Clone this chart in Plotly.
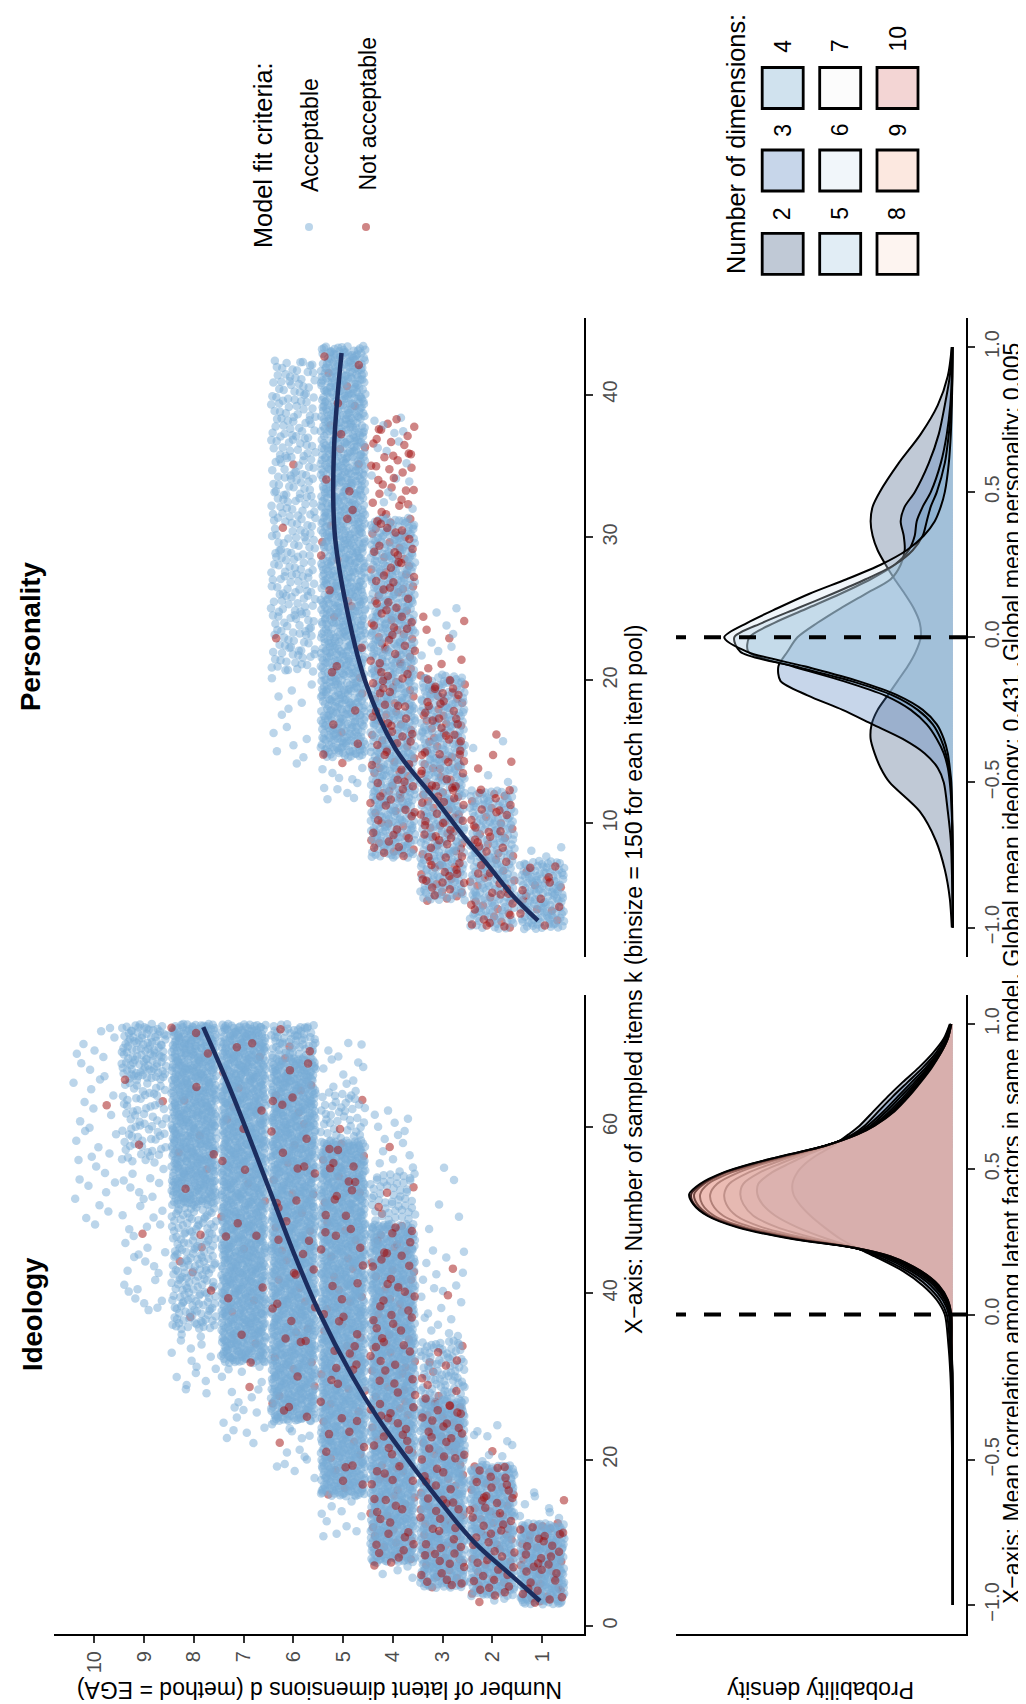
import plotly.graph_objects as go

W, H = 1026, 1704
FONT = "Liberation Sans, Arial, Helvetica, sans-serif"

# ------------------------------------------------------------------ data
dims = [1, 2, 3, 4, 5, 6, 7, 8, 9, 10]

# Scatter: bands of points
# (dimension d, first k, last k, points per k, share "Not acceptable")
ideo_band_dim = [1, 1, 2, 2, 2, 3, 3, 3, 3, 4, 4, 4, 4, 5, 5, 5, 5, 6, 6, 6, 7, 7, 8, 8, 8, 9, 9, 9, 10]
ideo_band_k0 = [3, 13, 3, 4, 20, 5, 28, 35, 46, 6, 8, 49, 55, 11, 16, 59, 65, 18, 25, 69, 22, 32, 28, 36, 51, 38, 56, 66, 48]
ideo_band_k1 = [12, 16, 3, 19, 24, 27, 34, 45, 57, 7, 48, 54, 62, 15, 58, 64, 70, 24, 68, 72, 31, 72, 35, 50, 72, 55, 65, 72, 72]
ideo_band_rate = [30, 2, 3, 27, 2, 30, 12, 2, 0.4, 2.5, 30, 9, 2, 2, 30, 7, 2, 2, 30, 15, 2, 30, 2, 12, 30, 2, 7, 15, 1.5]
ideo_band_red = [0.16, 0.10, 0.10, 0.17, 0.15, 0.14, 0.12, 0.10, 0.0, 0.10, 0.11, 0.08, 0.05, 0.10, 0.06, 0.05, 0.05,
                 0.05, 0.045, 0.03, 0.05, 0.02, 0.05, 0.03, 0.015, 0.05, 0.03, 0.015, 0.02]

pers_band_dim = [1, 1, 2, 2, 3, 3, 4, 4, 5, 5, 6, 6]
pers_band_k0 = [3, 8, 3, 13, 5, 21, 8, 32, 12, 15, 14, 21]
pers_band_k1 = [7, 8, 12, 16, 20, 25, 31, 38, 14, 43, 20, 42]
pers_band_rate = [30, 3, 27, 2, 30, 3, 33, 7, 4, 38, 2, 13]
pers_band_red = [0.12, 0.2, 0.25, 0.3, 0.28, 0.5, 0.2, 0.65, 0.05, 0.03, 0.02, 0.01]

# Smooth fits (k -> d)
ideo_smooth_k = [3, 6, 10, 14, 20, 25, 30, 38, 45, 52, 59, 65, 72]
ideo_smooth_d = [1.04, 1.6, 2.35, 2.92, 3.7, 4.3, 4.81, 5.5, 6.0, 6.45, 6.9, 7.3, 7.81]
pers_smooth_k = [3.2, 5, 7.1, 9, 11.5, 15.3, 20, 25.8, 30.4, 36.3, 42.9]
pers_smooth_d = [1.08, 1.6, 2.09, 2.55, 3.1, 3.96, 4.56, 4.97, 5.17, 5.18, 5.03]

k_ticks_ideo = [0, 20, 40, 60]
k_ticks_pers = [10, 20, 30, 40]
corr_ticks = [-1.0, -0.5, 0.0, 0.5, 1.0]

# Density of mean correlation, by number of dimensions
ideo_r = [-1.0, -0.6, -0.3, -0.2, -0.1, 0.0, 0.05, 0.1, 0.15, 0.2, 0.23, 0.26, 0.3, 0.34, 0.38, 0.414,
          0.45, 0.49, 0.52, 0.55, 0.58, 0.62, 0.65, 0.7, 0.75, 0.8, 0.85, 0.9, 0.95, 1.0]
ideo_dens = {
    2: [0, .004, .015, .025, .045, .08, .16, .30, .50, .78, .96, 1.12, 1.28, 1.42, 1.53, 1.59, 1.60, 1.55, 1.47, 1.35, 1.20, 1.04, .93, .79, .65, .50, .34, .20, .09, .03],
    3: [0, .003, .01, .018, .03, .06, .13, .26, .46, .75, .97, 1.25, 1.55, 1.77, 1.90, 1.95, 1.94, 1.80, 1.63, 1.45, 1.24, 1.00, .88, .74, .60, .45, .30, .17, .08, .025],
    4: [0, .001, .006, .01, .02, .04, .10, .22, .42, .71, .98, 1.35, 1.75, 1.99, 2.09, 2.12, 2.09, 1.92, 1.72, 1.50, 1.26, .98, .85, .69, .55, .41, .27, .15, .065, .022],
    5: [0, .001, .005, .008, .016, .03, .08, .19, .39, .68, .99, 1.42, 1.90, 2.16, 2.26, 2.28, 2.23, 2.03, 1.80, 1.55, 1.27, .97, .82, .66, .52, .38, .25, .14, .06, .02],
    6: [0, 0, .004, .007, .015, .023, .065, .17, .36, .66, .99, 1.48, 2.00, 2.29, 2.40, 2.42, 2.35, 2.13, 1.88, 1.58, 1.28, .96, .80, .63, .49, .36, .24, .13, .055, .018],
    7: [0, 0, .004, .006, .014, .02, .06, .16, .34, .64, .99, 1.53, 2.07, 2.38, 2.50, 2.52, 2.44, 2.20, 1.93, 1.61, 1.28, .96, .79, .61, .47, .34, .23, .13, .05, .017],
    8: [0, 0, .003, .006, .013, .018, .055, .15, .33, .63, .98, 1.56, 2.11, 2.42, 2.55, 2.58, 2.48, 2.25, 1.97, 1.63, 1.28, .96, .79, .60, .46, .33, .22, .12, .05, .016],
    9: [0, 0, .003, .005, .012, .016, .05, .14, .32, .62, .98, 1.58, 2.13, 2.44, 2.58, 2.61, 2.50, 2.27, 1.99, 1.64, 1.28, .95, .78, .59, .45, .33, .22, .12, .05, .015],
    10: [0, 0, .003, .005, .012, .015, .05, .14, .32, .62, .98, 1.60, 2.15, 2.45, 2.59, 2.63, 2.52, 2.28, 2.00, 1.65, 1.28, .95, .78, .58, .44, .32, .21, .12, .05, .015],
}
pers_r = [-1.0, -0.9, -0.8, -0.7, -0.6, -0.5, -0.45, -0.4, -0.35, -0.3, -0.25, -0.2, -0.15, -0.1, -0.05, 0.0,
          0.05, 0.1, 0.15, 0.2, 0.25, 0.3, 0.35, 0.4, 0.45, 0.5, 0.6, 0.7, 0.8, 0.9, 1.0]
pers_dens = {
    2: [.01, .03, .08, .17, .33, .63, .72, .78, .82, .81, .75, .65, .55, .45, .37, .32, .33, .39, .48, .58, .67, .75, .80, .82, .80, .73, .54, .32, .15, .05, .01],
    3: [0, .003, .01, .02, .05, .09, .15, .28, .50, .80, 1.10, 1.45, 1.72, 1.74, 1.65, 1.55, 1.35, 1.12, .87, .62, .52, .48, .49, .52, .48, .38, .24, .14, .08, .03, .01],
    4: [0, 0, .002, .005, .01, .03, .05, .09, .16, .26, .42, .68, 1.10, 1.60, 2.04, 2.03, 1.78, 1.45, 1.12, .82, .58, .44, .38, .36, .30, .22, .12, .06, .025, .01, .003],
    5: [0, 0, .001, .003, .01, .02, .04, .07, .12, .20, .35, .60, 1.02, 1.58, 2.12, 2.18, 1.90, 1.55, 1.20, .87, .58, .40, .30, .26, .22, .16, .08, .04, .015, .005, .002],
    6: [0, 0, .001, .002, .006, .015, .03, .05, .09, .16, .30, .55, .95, 1.48, 2.05, 2.28, 2.05, 1.75, 1.43, 1.06, .72, .46, .29, .18, .12, .08, .04, .02, .01, .004, .001],
}

# Fill colours of the dimension legend
dim_fill = {2: (45, 75, 118), 3: (68, 118, 185), 4: (98, 158, 198), 5: (155, 195, 222), 6: (208, 225, 238),
            7: (245, 245, 245), 8: (248, 218, 205), 9: (245, 178, 152), 10: (215, 115, 112)}
FILL_ALPHA = 0.3

ACC_COL = "rgb(120,172,214)"
NOT_COL = "rgb(160,12,12)"
LINE_COL = "#1B2D5F"


# ------------------------------------------------------------------ helpers
def halton(i, base):
    f, r = 1.0, 0.0
    while i > 0:
        f /= base
        r += f * (i % base)
        i //= base
    return r


def band_points(bdim, k0s, k1s, rates, reds, start):
    """Deterministic jitter inside the bands read from the picture.
    Returns accepted points and not-accepted points split in two draw layers
    (under / over the accepted ones), as points are interleaved in the original."""
    ad, ak, nd0, nk0, nd1, nk1 = [], [], [], [], [], []
    idx = start
    for d, a, b, r, s in zip(bdim, k0s, k1s, rates, reds):
        n = max(1, int(round(r * (b - a + 1))))
        for _ in range(n):
            idx += 1
            u, v, w = halton(idx, 2), halton(idx, 3), halton(idx, 5)
            kk = a - 0.4 + u * (b - a + 0.8)
            dd = d - 0.45 + v * 0.9
            if w < s * 0.45:
                nd0.append(dd); nk0.append(kk)
            elif w < s:
                nd1.append(dd); nk1.append(kk)
            else:
                ad.append(dd); ak.append(kk)
    return ad, ak, nd0, nk0, nd1, nk1


def px(x):
    return x / W


def py(y):
    return 1 - y / H


def rgba(c, a):
    return "rgba(%d,%d,%d,%.3f)" % (c[0], c[1], c[2], a)


# ------------------------------------------------------------------ figure
fig = go.Figure()

ideo_pts = band_points(ideo_band_dim, ideo_band_k0, ideo_band_k1, ideo_band_rate, ideo_band_red, 100)
pers_pts = band_points(pers_band_dim, pers_band_k0, pers_band_k1, pers_band_rate, pers_band_red, 20000)

MK = dict(size=8.5, opacity=0.5, line=dict(width=0))
for pts, xa, ya in [(ideo_pts, "x", "y"), (pers_pts, "x2", "y2")]:
    ad, ak, nd0, nk0, nd1, nk1 = pts
    fig.add_trace(go.Scatter(x=nd0, y=nk0, mode="markers", xaxis=xa, yaxis=ya, hoverinfo="skip",
                             marker=dict(MK, color=NOT_COL)))
    fig.add_trace(go.Scatter(x=ad, y=ak, mode="markers", xaxis=xa, yaxis=ya, hoverinfo="skip",
                             marker=dict(MK, color=ACC_COL)))
    fig.add_trace(go.Scatter(x=nd1, y=nk1, mode="markers", xaxis=xa, yaxis=ya, hoverinfo="skip",
                             marker=dict(MK, color=NOT_COL)))

fig.add_trace(go.Scatter(x=ideo_smooth_d, y=ideo_smooth_k, mode="lines", xaxis="x", yaxis="y",
                         line=dict(color=LINE_COL, width=4.5, shape="spline")))
fig.add_trace(go.Scatter(x=pers_smooth_d, y=pers_smooth_k, mode="lines", xaxis="x2", yaxis="y2",
                         line=dict(color=LINE_COL, width=4.5, shape="spline")))

for dens, rr, xa, ya in [(ideo_dens, ideo_r, "x3", "y3"), (pers_dens, pers_r, "x4", "y4")]:
    for d in sorted(dens):
        fig.add_trace(go.Scatter(x=dens[d], y=rr, mode="lines", xaxis=xa, yaxis=ya, hoverinfo="skip",
                                 fill="tozerox", fillcolor=rgba(dim_fill[d], FILL_ALPHA),
                                 line=dict(color="black", width=2, shape="spline", smoothing=0.8)))

dmax = max(max(v) for v in list(ideo_dens.values()) + list(pers_dens.values()))

# panel positions (pixels)
SC_X = (46, 576)
DE_X = (668, 958)
IDEO_Y = (987, 1626)
PERS_Y = (310, 948.6)

tickfont = dict(family=FONT, size=20, color="#4D4D4D")
base_ax = dict(showgrid=False, zeroline=False, automargin=False, ticks="outside", ticklen=7, tickwidth=2,
               tickcolor="#333333", linecolor="black", linewidth=2.2, tickfont=tickfont, tickangle=-90)
hidden_ax = dict(showgrid=False, zeroline=False, automargin=False, showline=False, ticks="",
                 showticklabels=False)

fig.update_layout(
    xaxis=dict(base_ax, domain=[px(SC_X[0]), px(SC_X[1])], range=[10.81, 0.156], tickvals=dims,
               showline=True, anchor="y", side="bottom"),
    yaxis=dict(base_ax, domain=[py(IDEO_Y[1]), py(IDEO_Y[0])], range=[-0.962, 75.87], tickvals=k_ticks_ideo,
               showline=True, anchor="x", side="right"),
    xaxis2=dict(hidden_ax, domain=[px(SC_X[0]), px(SC_X[1])], range=[10.81, 0.156], anchor="y2"),
    yaxis2=dict(base_ax, domain=[py(PERS_Y[1]), py(PERS_Y[0])], range=[0.69, 45.35], tickvals=k_ticks_pers,
                showline=True, anchor="x2", side="right"),
    xaxis3=dict(hidden_ax, domain=[px(DE_X[0]), px(DE_X[1])], range=[1.05 * dmax, -0.05 * dmax],
                anchor="y3", showline=True, linecolor="black", linewidth=2.2),
    yaxis3=dict(base_ax, domain=[py(IDEO_Y[1]), py(IDEO_Y[0])], range=[-1.1, 1.1], tickvals=corr_ticks,
                tickformat=".1f", showline=True, anchor="x3", side="right"),
    xaxis4=dict(hidden_ax, domain=[px(DE_X[0]), px(DE_X[1])], range=[1.05 * dmax, -0.05 * dmax], anchor="y4"),
    yaxis4=dict(base_ax, domain=[py(PERS_Y[1]), py(PERS_Y[0])], range=[-1.1, 1.1], tickvals=corr_ticks,
                tickformat=".1f", showline=True, anchor="x4", side="right"),
)

shapes = []
for xa, ya in [("x3", "y3"), ("x4", "y4")]:
    shapes.append(dict(type="line", xref=xa + " domain", yref=ya, x0=1, x1=0, y0=0, y1=0,
                       line=dict(color="black", width=4, dash="17px,18px")))

# legend: model fit criteria markers
for cx, col in [(301, ACC_COL), (358, NOT_COL)]:
    shapes.append(dict(type="circle", xref="paper", yref="paper", x0=px(cx - 4), x1=px(cx + 4),
                       y0=py(219 + 4), y1=py(219 - 4), fillcolor=col, opacity=0.5, line=dict(width=0)))

# legend: number of dimensions keys
key_cols = [774.7, 832.2, 889.5]
key_rows = [245.8, 162.5, 80.0]
for i, d in enumerate(range(2, 11)):
    cx = key_cols[i // 3]
    cy = key_rows[i % 3]
    shapes.append(dict(type="rect", xref="paper", yref="paper", x0=px(cx - 20.5), x1=px(cx + 20.5),
                       y0=py(cy + 20.5), y1=py(cy - 20.5), fillcolor=rgba(dim_fill[d], FILL_ALPHA),
                       line=dict(color="black", width=2.8)))

ann = []


def add_text(text, x, y, size, angle, color="black"):
    ann.append(dict(text=text, x=px(x), y=py(y), xref="paper", yref="paper", showarrow=False,
                    xanchor="center", yanchor="middle", textangle=angle,
                    font=dict(family=FONT, size=size, color=color)))


add_text("<b>Ideology</b>", 24, 1306, 27.6, -90)
add_text("<b>Personality</b>", 22, 629, 27.6, -90)
add_text("X\u2212axis: Number of sampled items k (binsize = 150 for each item pool)", 626, 971, 23, -90)
add_text("X\u2212axis: Mean correlation among latent factors in same model. Global mean ideology: 0.431 "
         ".Global mean personality: 0.005", 1004, 966, 23, -90)
add_text("Number of latent dimensions d (method = EGA)", 312, 1682, 23, 180)
add_text("Probability density", 813, 1682, 23, 180)
add_text("Model fit criteria:", 255, 147, 25.3, -90)
add_text("Acceptable", 302, 127, 23, -90)
add_text("Not acceptable", 359, 106.5, 23, -90)
add_text("Number of dimensions:", 728, 136, 25.3, -90)
label_rows = [205.5, 122, 38]
for i, d in enumerate(range(2, 11)):
    cx = key_cols[i // 3]
    cy = label_rows[i % 3]
    if d == 10:
        cy = 31
    add_text(str(d), cx, cy, 23, -90)

fig.update_layout(
    width=W, height=H, margin=dict(l=0, r=0, t=0, b=0),
    paper_bgcolor="white", plot_bgcolor="white", showlegend=False,
    font=dict(family=FONT), shapes=shapes, annotations=ann,
)

fig.write_html("out.html")
